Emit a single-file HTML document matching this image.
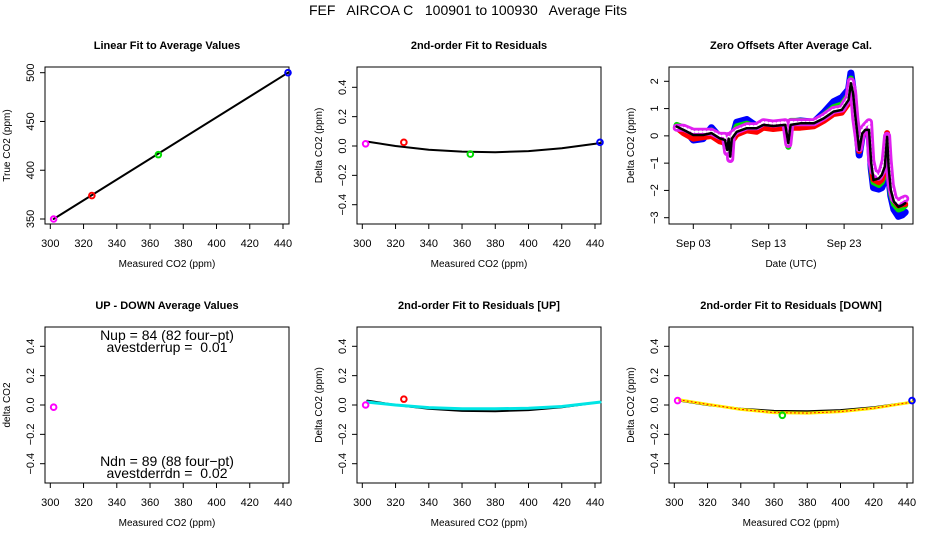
<!DOCTYPE html>
<html><head><meta charset="utf-8"><style>
html,body{margin:0;padding:0;background:#fff;}
svg{display:block;font-family:"Liberation Sans",Arial,sans-serif;}
text{white-space:pre;}
</style></head><body>
<svg id="c" width="936" height="540" viewBox="0 0 936 540" xmlns="http://www.w3.org/2000/svg" xml:space="preserve">
<text x="468" y="15" text-anchor="middle" font-size="14">FEF   AIRCOA C   100901 to 100930   Average Fits</text>
</svg>
<script>
// ---- data ----
var calX = [302, 325, 365, 443];
var calTrue = [350, 374, 416, 500];
var calResid = [0.015, 0.025, -0.055, 0.025];
var calColors = ['#ff00ff', '#ff0000', '#00dd00', '#0000ff'];
var fitX = [303, 320, 340, 360, 380, 400, 420, 443];
var fitResid = [0.03, 0.0, -0.025, -0.038, -0.042, -0.035, -0.015, 0.02];
var upBlack = [0.03, 0.0, -0.025, -0.04, -0.042, -0.035, -0.015, 0.02];
var upCyan = [0.02, 0.0, -0.018, -0.025, -0.026, -0.022, -0.01, 0.02];
var upPtsX = [302, 325];
var upPtsY = [0.0, 0.04];
var upPtsC = ['#ff00ff', '#ff0000'];
var dnBlack = [0.03, 0.0, -0.025, -0.04, -0.042, -0.035, -0.015, 0.02];
var dnYellow = [0.035, 0.005, -0.03, -0.052, -0.055, -0.045, -0.022, 0.02];
var dnPtsX = [302, 365, 443];
var dnPtsY = [0.03, -0.07, 0.03];
var dnPtsC = ['#ff00ff', '#00dd00', '#0000ff'];
var udX = [302];
var udY = [-0.015];
var days = [0.8,1.7,3.0,4.3,5.4,6.5,7.2,7.5,7.7,7.9,8.1,8.75,10.1,11.4,12.3,13.6,15.2,15.6,15.9,17.2,19.0,20.3,21.6,22.7,23.6,23.9,24.2,24.5,24.8,25.0,25.4,25.8,26.3,26.6,26.9,27.6,28.0,28.4,28.7,28.9,29.2,29.6,30.2,30.7,31.1];
var zBase = [0.34,0.22,0.03,0.03,0.1,-0.09,-0.15,-0.52,-0.1,-0.76,-0.1,0.15,0.28,0.28,0.4,0.36,0.4,-0.27,0.4,0.46,0.46,0.64,0.89,0.95,1.32,1.93,1.56,0.7,-0.03,-0.52,0.09,0.22,0.22,-1.0,-1.62,-1.56,-1.43,-1.13,-0.03,-1.13,-1.99,-2.41,-2.6,-2.54,-2.47];
var zBlue = [0.35,0.3,-0.15,-0.1,0.3,-0.05,-0.2,-0.6,-0.15,-0.85,-0.15,0.5,0.6,0.35,0.45,0.4,0.45,-0.3,0.5,0.55,0.5,0.85,1.25,1.4,1.7,2.3,1.7,0.7,-0.1,-0.7,0.0,0.2,0.2,-1.2,-1.9,-1.95,-1.9,-1.6,-0.1,-1.4,-2.2,-2.7,-2.95,-2.9,-2.8];
var zGreen = [0.4,0.3,0.0,0.05,0.2,0.0,-0.1,-0.5,-0.1,-0.8,-0.05,0.35,0.45,0.3,0.45,0.4,0.45,-0.4,0.55,0.55,0.5,0.75,1.05,1.15,1.5,2.1,1.6,0.7,0.0,-0.55,0.1,0.25,0.25,-1.1,-1.7,-1.8,-1.7,-1.4,-0.05,-1.3,-2.1,-2.5,-2.7,-2.65,-2.55];
var zRed = [0.3,0.1,-0.1,-0.05,0.0,-0.2,-0.25,-0.6,-0.2,-0.7,-0.2,0.05,0.2,0.15,0.3,0.25,0.3,-0.3,0.3,0.3,0.35,0.55,0.8,0.85,1.2,1.9,1.45,0.6,-0.05,-0.55,0.0,0.2,0.1,-1.0,-1.6,-1.7,-1.6,-1.2,0.1,-1.1,-1.9,-2.35,-2.55,-2.5,-2.5];
var zMag = [0.3,0.3,0.15,0.15,0.15,0.0,0.0,-0.6,0.0,-0.85,0.05,0.2,0.35,0.35,0.5,0.45,0.5,-0.3,0.5,0.5,0.5,0.7,0.95,1.0,1.4,2.0,1.6,0.6,0.0,-0.45,0.2,0.35,0.5,-0.9,-1.3,-1.5,-1.3,-0.9,0.0,-0.9,-1.8,-2.3,-2.45,-2.35,-2.3];
var co2Ticks = [300, 320, 340, 360, 380, 400, 420, 440];
var residTicks = [-0.4, -0.2, 0, 0.2, 0.4];
var residTickLabels = ['\u22120.4', '\u22120.2', '0.0', '0.2', '0.4'];
var trueTicks = [350, 400, 450, 500];
var dateTicks = [3, 13, 23];
var dateLabels = ['Sep 03', 'Sep 13', 'Sep 23'];
var dateMinor = [8, 18, 28];
var zTicks = [-3, -2, -1, 0, 1, 2];
var zTickLabels = ['\u22123', '\u22122', '\u22121', '0', '1', '2'];

var svg = document.getElementById('c');
var NS = 'http://www.w3.org/2000/svg';
function mk(tag, attrs, parent) {
  var e = document.createElementNS(NS, tag);
  for (var k in attrs) e.setAttribute(k, attrs[k]);
  (parent || svg).appendChild(e);
  return e;
}
function lin(d0, d1, r0, r1) { return function (v) { return r0 + (v - d0) * (r1 - r0) / (d1 - d0); }; }

function panel(col, row, title, name) {
  var g = mk('g', {});
  
  
  var L = 45 + 312 * col, R = L + 244, T = row ? 327 : 67, B = row ? 483 : 224;
  var box = mk('rect', {x: L, y: T, width: R - L, height: B - T, fill: 'none', stroke: '#000', 'stroke-width': 1}, g);
  
  
  var t = mk('text', {x: (L + R) / 2, y: T - 18, 'text-anchor': 'middle', 'font-size': 11, 'font-weight': 'bold'}, g);
  t.textContent = title;
  
  
  return {g: g, L: L, R: R, T: T, B: B};
}
function xAxis(p, sx, ticks, labels, title) {
  mk('line', {x1: sx(ticks[0]), x2: sx(ticks[ticks.length - 1]), y1: p.B, y2: p.B, stroke: '#000'}, p.g);
  ticks.forEach(function (v, i) {
    mk('line', {x1: sx(v), x2: sx(v), y1: p.B, y2: p.B + 5, stroke: '#000'}, p.g);
    var t = mk('text', {x: sx(v), y: p.B + 23, 'text-anchor': 'middle', 'font-size': 11}, p.g);
    t.textContent = labels[i];
    
    
  });
  var a = mk('text', {x: (p.L + p.R) / 2, y: p.B + 43, 'text-anchor': 'middle', 'font-size': 10}, p.g);
  a.textContent = title;
  
  
}
function yAxis(p, sy, ticks, labels, title) {
  mk('line', {x1: p.L, x2: p.L, y1: sy(ticks[0]), y2: sy(ticks[ticks.length - 1]), stroke: '#000'}, p.g);
  ticks.forEach(function (v, i) {
    mk('line', {x1: p.L - 5, x2: p.L, y1: sy(v), y2: sy(v), stroke: '#000'}, p.g);
    var t = mk('text', {x: 0, y: 0, 'text-anchor': 'middle', 'font-size': 11, transform: 'translate(' + (p.L - 11) + ',' + sy(v) + ') rotate(-90)'}, p.g);
    t.textContent = labels[i];
    
    
  });
  var a = mk('text', {x: 0, y: 0, 'text-anchor': 'middle', 'font-size': 10, transform: 'translate(' + (p.L - 35) + ',' + ((p.T + p.B) / 2) + ') rotate(-90)'}, p.g);
  a.textContent = title;
  
  
}
function line(p, xs, ys, sx, sy, color, w, dash, name) {
  var d = xs.map(function (x, i) { return (i ? 'L' : 'M') + sx(x).toFixed(1) + ',' + sy(ys[i]).toFixed(1); }).join(' ');
  var e = mk('path', {d: d, fill: 'none', stroke: color, 'stroke-width': w, 'stroke-linejoin': 'round', 'stroke-linecap': 'round'}, p.g);
  if (dash) e.setAttribute('stroke-dasharray', dash);
  
  
}
function pt(p, x, y, color, name) {
  var c = mk('circle', {cx: x, cy: y, r: 2.8, fill: 'none', stroke: color, 'stroke-width': 2}, p.g);
  
  
}
var co2Labels = co2Ticks.map(String);

// Panel 1
var p1 = panel(0, 0, 'Linear Fit to Average Values', 'linear-fit-panel');
var sx1 = lin(300, 440, p1.L + 5.3, p1.L + 238);
var sy1 = lin(350, 500, 219, 72.7);
xAxis(p1, sx1, co2Ticks, co2Labels, 'Measured CO2 (ppm)');
yAxis(p1, sy1, trueTicks, trueTicks.map(String), 'True CO2 (ppm)');
line(p1, [calX[0], calX[3]], [calTrue[0], calTrue[3]], sx1, sy1, '#000', 2, null, 'fit-line');
calX.forEach(function (x, i) { pt(p1, sx1(x), sy1(calTrue[i]), calColors[i], 'cal-point'); });

// Panel 2
var p2 = panel(1, 0, '2nd-order Fit to Residuals', 'residual-fit-panel');
var sx2 = lin(300, 440, p2.L + 5.3, p2.L + 238);
var sy2 = lin(0, 0.4, 146, 87.3);
xAxis(p2, sx2, co2Ticks, co2Labels, 'Measured CO2 (ppm)');
yAxis(p2, sy2, residTicks, residTickLabels, 'Delta CO2 (ppm)');
line(p2, fitX, fitResid, sx2, sy2, '#000', 2, null, 'quadratic-fit');
calX.forEach(function (x, i) { pt(p2, sx2(x), sy2(calResid[i]), calColors[i], 'residual-point'); });

// Panel 3
var p3 = panel(2, 0, 'Zero Offsets After Average Cal.', 'zero-offsets-panel');
var sx3 = lin(3, 13, 693.3, 768.7);
var sy3 = lin(2, -3, 81.3, 217.7);
xAxis(p3, sx3, dateTicks, dateLabels, 'Date (UTC)');
dateMinor.forEach(function (v) { mk('line', {x1: sx3(v), x2: sx3(v), y1: p3.B, y2: p3.B + 5, stroke: '#000'}, p3.g); });
mk('line', {x1: sx3(3), x2: sx3(28), y1: p3.B, y2: p3.B, stroke: '#000'}, p3.g);
yAxis(p3, sy3, zTicks, zTickLabels, 'Delta CO2 (ppm)');
line(p3, days, zBlue, sx3, sy3, '#0000ff', 7, null, 'series-blue');
line(p3, days, zGreen, sx3, sy3, '#00dd00', 6, null, 'series-green');
line(p3, days, zRed, sx3, sy3, '#ff0000', 6, null, 'series-red');
line(p3, days, zMag, sx3, sy3, '#e020f0', 8, null, 'series-magenta');
line(p3, days, zMag, sx3, sy3, '#ffffff', 2.5, '1.5,2.5', 'series-magenta-highlight');
line(p3, days, zBase, sx3, sy3, '#000', 2.5, null, 'series-average');

// Panel 4
var p4 = panel(0, 1, 'UP - DOWN Average Values', 'up-down-panel');
var sx4 = lin(300, 440, p4.L + 5.3, p4.L + 238);
var sy4 = lin(0, 0.4, 405, 346.3);
xAxis(p4, sx4, co2Ticks, co2Labels, 'Measured CO2 (ppm)');
yAxis(p4, sy4, residTicks, residTickLabels, 'delta CO2');
udX.forEach(function (x, i) { pt(p4, sx4(x), sy4(udY[i]), '#ff00ff', 'up-down-point'); });
[['Nup = 84 (82 four\u2212pt)', 340, 'nup-text'], ['avestderrup =  0.01', 352, 'avestderrup-text'], ['Ndn = 89 (88 four\u2212pt)', 466, 'ndn-text'], ['avestderrdn =  0.02', 478, 'avestderrdn-text']].forEach(function (s) {
  var t = mk('text', {x: 167, y: s[1], 'text-anchor': 'middle', 'font-size': 14}, p4.g);
  t.textContent = s[0];
  
  
});

// Panel 5
var p5 = panel(1, 1, '2nd-order Fit to Residuals [UP]', 'residual-up-panel');
var sx5 = lin(300, 440, p5.L + 5.3, p5.L + 238);
var sy5 = lin(0, 0.4, 405, 346.3);
xAxis(p5, sx5, co2Ticks, co2Labels, 'Measured CO2 (ppm)');
yAxis(p5, sy5, residTicks, residTickLabels, 'Delta CO2 (ppm)');
line(p5, fitX, upBlack, sx5, sy5, '#000', 2, null, 'fit-all');
line(p5, fitX, upCyan, sx5, sy5, '#00e5e5', 3, null, 'fit-up');
upPtsX.forEach(function (x, i) { pt(p5, sx5(x), sy5(upPtsY[i]), upPtsC[i], 'up-point'); });

// Panel 6
var p6 = panel(2, 1, '2nd-order Fit to Residuals [DOWN]', 'residual-down-panel');
var sx6 = lin(300, 440, p6.L + 5.3, p6.L + 238);
var sy6 = lin(0, 0.4, 405, 346.3);
xAxis(p6, sx6, co2Ticks, co2Labels, 'Measured CO2 (ppm)');
yAxis(p6, sy6, residTicks, residTickLabels, 'Delta CO2 (ppm)');
line(p6, fitX, dnBlack, sx6, sy6, '#000', 2, null, 'fit-all');
line(p6, fitX, dnYellow, sx6, sy6, '#ffee00', 3, null, 'fit-down');
line(p6, fitX, dnYellow, sx6, sy6, '#ff0000', 1, '1,3', 'fit-down-dots');
dnPtsX.forEach(function (x, i) { pt(p6, sx6(x), sy6(dnPtsY[i]), dnPtsC[i], 'down-point'); });
</script>
</body></html>
